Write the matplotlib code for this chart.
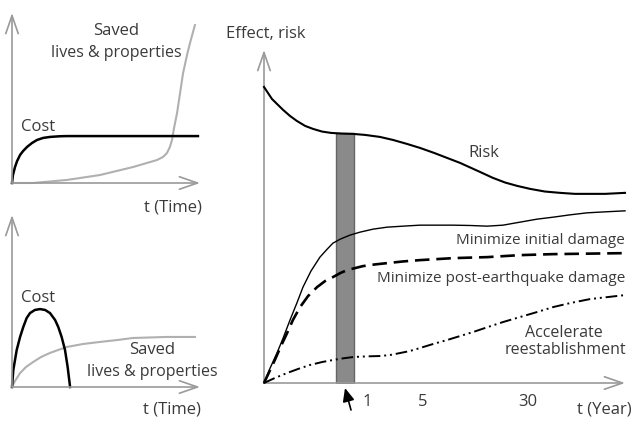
import matplotlib.pyplot as plt

# Top-left panel: cost vs saved lives (arbitrary units, 0..100)
tl_cost_t = [0, 0.5, 1.6, 2.7, 4.3, 5.9, 8.0, 10.6, 13.3, 16.5, 20.2, 25.5, 29.3, 98.9]
tl_cost_v = [0, 4.7, 9.4, 12.9, 16.5, 18.8, 21.2, 23.5, 25.3, 26.5, 27.1, 27.5, 27.6, 27.6]
tl_saved_t = [0, 11.2, 29.3, 46.8, 64.4, 77.1, 80.3, 82.4, 84.0, 85.1, 86.2, 87.8, 89.4,
              91.0, 93.1, 94.7, 97.3]
tl_saved_v = [0, 0, 1.8, 4.7, 9.4, 13.5, 15.3, 17.6, 21.2, 25.3, 32.4, 41.2, 52.9,
              64.7, 75.3, 82.4, 92.9]

# Bottom-left panel
bl_cost_t = [0, 0.7, 2.5, 4.3, 6.0, 7.8, 9.6, 12.2, 14.9, 17.6, 20.2, 22.9, 24.6, 26.4,
             28.2, 29.6, 30.9]
bl_cost_v = [0, 9.9, 21.5, 29.1, 34.9, 40.1, 43.0, 44.8, 45.3, 44.8, 43.0, 39.0, 34.9, 29.1,
             21.5, 11.6, 0]
bl_saved_t = [0, 1.6, 4.3, 7.4, 11.2, 15.4, 20.2, 24.5, 29.3, 37.8, 46.8, 55.9, 64.4, 73.4,
              82.4, 97.3]
bl_saved_v = [0, 3.5, 8.1, 11.6, 14.5, 17.4, 19.8, 21.5, 23.3, 25.0, 26.2, 27.3, 28.5, 28.8,
              29.1, 29.1]

# Right panel: effect and risk over time
risk_t = [0, 1.1, 2.2, 3.6, 5.3, 7.2, 9.1, 11.4, 13.6, 16.1, 18.6, 21.6, 24.7, 28.0, 32.1,
          35.7, 39.6, 43.2, 47.1, 50.7, 54.3, 59.8, 63.4, 66.8, 70.1, 73.7, 77.8, 82.0, 86.1,
          90.3, 94.5, 100]
risk_v = [88.9, 87.1, 85.3, 83.8, 82.0, 80.2, 78.7, 77.2, 76.3, 75.5, 75.1, 74.9, 74.8, 74.5,
          73.9, 73.0, 71.8, 70.6, 69.1, 67.6, 66.1, 63.4, 61.6, 60.2, 59.2, 58.3, 57.5, 57.1,
          56.8, 56.8, 56.8, 57.1]
init_t = [0, 1.7, 3.6, 5.3, 7.2, 9.1, 10.8, 13.0, 15.5, 17.5, 19.1, 21.1, 23.8, 26.6, 30.2,
          34.1, 38.5, 43.2, 47.9, 52.4, 57.1, 61.8, 66.2, 70.9, 75.6, 80.1, 84.8, 89.5, 94.5,
          100]
init_v = [0, 4.5, 9.0, 13.5, 18.9, 24.0, 28.8, 33.6, 37.8, 40.2, 42.0, 43.2, 44.4, 45.3,
          46.2, 46.8, 47.1, 47.4, 47.4, 47.4, 47.3, 47.1, 47.4, 48.3, 49.2, 49.8, 50.5, 51.1,
          51.4, 51.7]
post_t = [0, 1.7, 3.0, 4.7, 6.4, 8.0, 10.0, 12.2, 14.7, 16.9, 19.1, 21.1, 23.0, 25.2, 27.4,
          30.7, 34.1, 38.5, 43.2, 52.4, 61.8, 70.9, 80.1, 100]
post_v = [0, 3.9, 6.9, 11.1, 15.0, 18.9, 22.8, 26.1, 28.8, 30.6, 31.8, 33.0, 33.9, 34.5,
          35.1, 35.6, 36.0, 36.5, 36.9, 37.5, 37.8, 38.4, 38.7, 39.0]
reest_t = [0, 3.0, 6.4, 9.4, 12.7, 16.1, 19.1, 21.9, 24.7, 28.5, 32.1, 34.9, 37.7, 40.4,
           43.2, 46.8, 50.7, 54.3, 57.9, 62.0, 66.2, 70.9, 75.6, 80.1, 84.8, 90.3, 100]
reest_v = [0, 1.5, 3.0, 4.2, 5.4, 6.3, 6.9, 7.4, 7.8, 8.0, 8.1, 8.4, 9.0, 9.6, 10.5, 11.7,
           12.9, 14.1, 15.3, 16.8, 18.3, 19.8, 21.3, 22.8, 24.0, 25.2, 26.4]
band = [19.9, 24.9]
band_top = 75.2
year_ticks = [28.5, 44, 73]
year_labels = ['1', '5', '30']

W, H = 633, 421
TXT = '#3a3a3a'
AX = '#9a9a9a'
plt.rcParams['font.family'] = ['Open Sans', 'DejaVu Sans']

fig = plt.figure(figsize=(W / 100, H / 100), dpi=100)


def make_ax(x0, y0, x1, ytop):
    # pixel box: origin (x0, y0), right end x1, top ytop
    ax = fig.add_axes([x0 / W, 1 - y0 / H, (x1 - x0) / W, (y0 - ytop) / H])
    ax.set_xlim(0, 100)
    ax.set_ylim(0, 100)
    ax.axis('off')
    arrow = dict(arrowstyle='->,head_length=1.3,head_width=0.45', color=AX, lw=1.2,
                 shrinkA=0, shrinkB=0)
    ax.annotate('', xy=(1, 0), xytext=(0, 0), xycoords='axes fraction', arrowprops=arrow)
    ax.annotate('', xy=(0, 1), xytext=(0, 0), xycoords='axes fraction', arrowprops=arrow)
    return ax


def ftext(x, y, s, **kw):
    kw.setdefault('ha', 'center')
    kw.setdefault('va', 'center')
    kw.setdefault('fontsize', 12)
    kw.setdefault('color', TXT)
    fig.text(x / W, 1 - y / H, s, **kw)


# top-left
ax1 = make_ax(12, 183, 200, 13)
ax1.plot(tl_saved_t, tl_saved_v, color='#b0b0b0', lw=1.5, clip_on=False)
ax1.plot(tl_cost_t, tl_cost_v, color='black', lw=1.8, clip_on=False)
ftext(116, 31, 'Saved')
ftext(116, 53, 'lives & properties', fontsize=11.5)
ftext(38, 127, 'Cost')
ftext(173, 207, 't (Time)')

# bottom-left
ax2 = make_ax(12, 387, 200, 215)
ax2.plot(bl_saved_t, bl_saved_v, color='#b0b0b0', lw=1.5, clip_on=False)
ax2.plot(bl_cost_t, bl_cost_v, color='black', lw=1.8, clip_on=False)
ftext(38, 298, 'Cost')
ftext(152, 350, 'Saved')
ftext(152, 372, 'lives & properties', fontsize=11.5)
ftext(172, 410, 't (Time)')

# right panel
ax3 = make_ax(264, 383, 625, 50)
ax3.fill_between(band, 0, band_top, color='#8a8a8a', edgecolor='#666666', lw=1, zorder=1)
ax3.plot(risk_t, risk_v, color='black', lw=1.5, clip_on=False, zorder=3)
ax3.plot(init_t, init_v, color='black', lw=1.0, clip_on=False, zorder=3)
ax3.plot(post_t, post_v, color='black', lw=1.9, dashes=(5.5, 2.6), clip_on=False, zorder=3)
ax3.plot(reest_t, reest_v, color='black', lw=1.4, dashes=(6, 2, 1, 2, 1, 2), clip_on=False,
         zorder=3)
ax3.axis('on')
for sp in ax3.spines.values():
    sp.set_visible(False)
ax3.set_yticks([])
ax3.set_xticks(year_ticks, year_labels)
ax3.tick_params(axis='x', length=0, pad=8, labelsize=12, labelcolor=TXT)

ax3.annotate('', xy=(345, H - 388), xytext=(351, H - 410), xycoords='figure pixels',
             textcoords='figure pixels',
             arrowprops=dict(arrowstyle='-|>,head_length=0.8,head_width=0.35', color='black',
                             lw=1.2, shrinkA=0, shrinkB=0))

ftext(266, 34, 'Effect, risk')
ftext(484, 153, 'Risk')
ftext(625, 240, 'Minimize initial damage', ha='right', fontsize=11)
ftext(625, 279, 'Minimize post-earthquake damage', ha='right', fontsize=11)
ftext(564, 333, 'Accelerate', fontsize=11.5)
ftext(565, 350, 'reestablishment', fontsize=11.5)
ftext(632, 410, 't (Year)', ha='right')

fig.savefig('out.png', dpi=100)
